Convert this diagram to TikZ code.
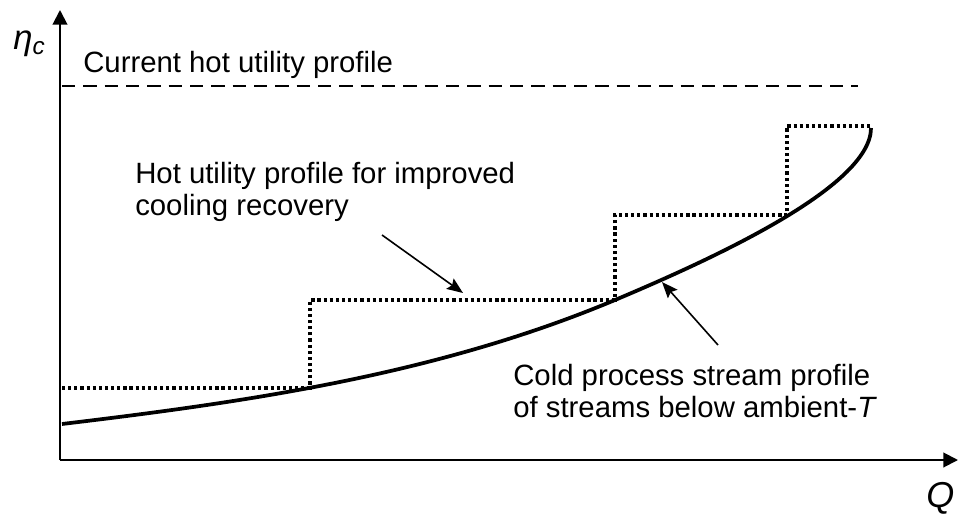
\documentclass[tikz,border=0pt]{standalone}
\usepackage{fontspec}
\setmainfont{Liberation Sans}
\usetikzlibrary{arrows.meta}

\tikzset{
  axis/.style={line width=1.5pt,-{Triangle[length=11pt,width=11pt]}},
  pointer/.style={line width=1.2pt,-{Stealth[length=12pt,width=9.5pt,inset=2pt]}},
  note/.style={inner sep=0pt,anchor=base west,align=left,font=\fontsize{22}{24}\selectfont},
  axislbl/.style={inner sep=0pt,anchor=base west,font=\fontsize{26}{26}\selectfont\itshape},
  profile/.style={line width=2.8pt},
  steps/.style={line width=2.4pt,dash pattern=on 2.4pt off 2.2pt},
}

\begin{document}
\begin{tikzpicture}[x=0.75pt,y=-0.75pt]
\useasboundingbox (0,0) rectangle (961,517);
% axes
\coordinate (O) at (60,460);
\coordinate (ytop) at (60,10);
\coordinate (xend) at (958,460);
\draw[axis] (O) -- (ytop);
\draw[axis] (O) -- (xend);
\node[axislbl] (eta) at (13,50) {η\textsubscript{c}};
\node[axislbl,font=\fontsize{27}{27}\selectfont\itshape] (Q) at (926,507) {Q};
% current hot utility
\coordinate (hu0) at (62,86);
\coordinate (hu1) at (858,86);
\draw[line width=1.9pt,dash pattern=on 10pt off 6pt] (hu0) -- (hu1);
\node[note] (curlbl) at (83,73) {Current hot utility profile};
% cold process stream profile
\draw[profile] (62,424) .. controls (242,402.4) and (435,375.6) .. (615,300)
  .. controls (705,262) and (871,188) .. (871,128);
% improved hot utility profile
\draw[steps] (62,388) -- (310,388) -- (310,300) -- (615,300) -- (615,215)
  -- (787,215) -- (787,126) -- (871,126);
\node[note] (newlbl) at (135,215) {Hot utility profile for improved\\cooling recovery};
\node[note] (coldlbl) at (513,417) {Cold process stream profile\\of streams below ambient-\textit{T}};
% pointers
\coordinate (p1) at (382,235);
\coordinate (p1tip) at (463,293);
\coordinate (p2) at (718,345);
\coordinate (p2tip) at (662,282);
\draw[pointer] (p1) -- (p1tip);
\draw[pointer] (p2) -- (p2tip);
\end{tikzpicture}
\end{document}
